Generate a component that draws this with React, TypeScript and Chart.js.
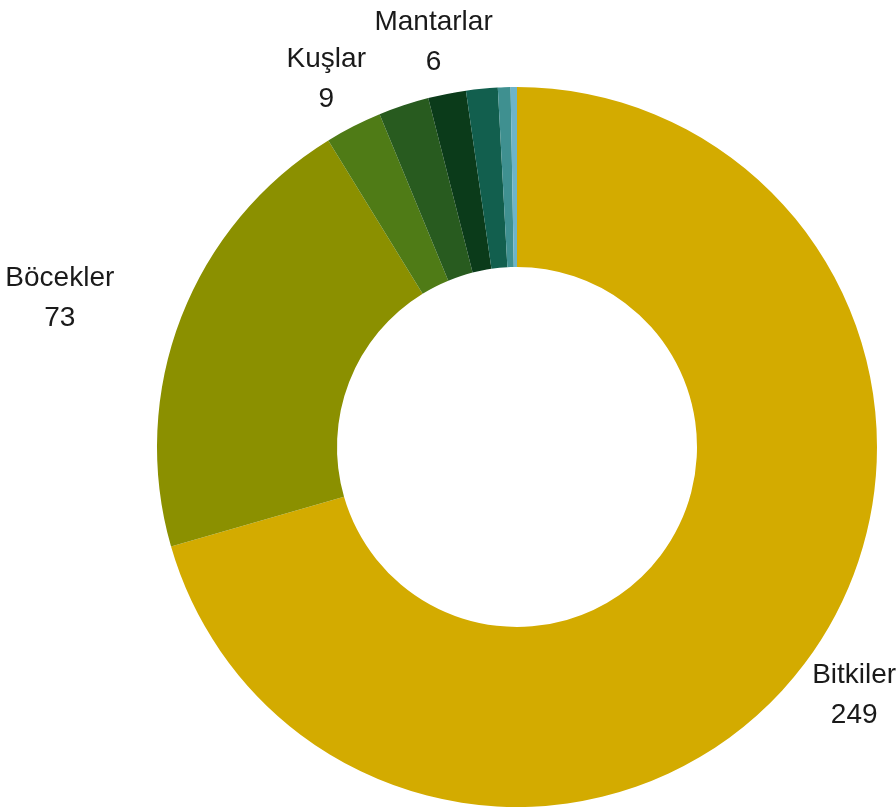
import React, { useEffect, useRef } from "react";
import { Chart, registerables } from "chart.js";

Chart.register(...registerables);

const categories = ["Bitkiler", "Böcekler", "Kuşlar", "Memeliler", "Mantarlar", "Balıklar", "Sürüngenler", "Amfibiler"];
const values = [249, 73, 9, 8, 6, 5, 2, 1];
const showLabel = [true, true, true, false, true, false, false, false];
const colors = ["#D3AB00", "#8B9000", "#4F7B16", "#285B1F", "#0B3B1A", "#125F4E", "#3F9090", "#6DB4CA"];
const labelNudgeX = [0, -52, 0, 0, 2, 0, 0, 0];

const labelPlugin = {
  id: "outsideLabels",
  afterDatasetsDraw(chart: any) {
    const ctx = chart.ctx;
    const meta = chart.getDatasetMeta(0);
    ctx.save();
    ctx.font = "28px 'Liberation Sans', Arial, sans-serif";
    ctx.fillStyle = "#1a1a1a";
    ctx.textAlign = "center";
    ctx.textBaseline = "middle";
    meta.data.forEach((arc: any, i: number) => {
      if (!showLabel[i]) return;
      const p = arc.getProps(["x", "y", "startAngle", "endAngle", "outerRadius"], true);
      const mid = (p.startAngle + p.endAngle) / 2;
      const dx = Math.cos(mid);
      const dy = Math.sin(mid);
      const l1 = categories[i];
      const l2 = String(values[i]);
      const w = Math.max(ctx.measureText(l1).width, ctx.measureText(l2).width);
      const h = 66;
      const r = p.outerRadius + 20;
      const cx = p.x + dx * r + (dx * w) / 2 + labelNudgeX[i];
      const cy = p.y + dy * r + (dy * h) / 2;
      ctx.fillText(l1, cx, cy - 20);
      ctx.fillText(l2, cx, cy + 20);
    });
    ctx.restore();
  },
};

export default function App() {
  const ref = useRef<HTMLCanvasElement | null>(null);
  useEffect(() => {
    document.body.style.margin = "0";
    const chart = new Chart(ref.current as HTMLCanvasElement, {
      type: "doughnut",
      data: {
        labels: categories,
        datasets: [
          {
            data: values,
            backgroundColor: colors,
            borderWidth: 0,
          },
        ],
      },
      options: {
        animation: false,
        responsive: false,
        cutout: "50%",
        layout: { padding: { left: 157, right: 19, top: 87, bottom: 2 } },
        plugins: {
          legend: { display: false },
          tooltip: { enabled: false },
        },
      },
      plugins: [labelPlugin],
    });
    return () => chart.destroy();
  }, []);
  return (
    <div style={{ width: 896, height: 809, background: "#fff" }}>
      <canvas ref={ref} width={896} height={809} style={{ width: 896, height: 809, display: "block" }} />
    </div>
  );
}
